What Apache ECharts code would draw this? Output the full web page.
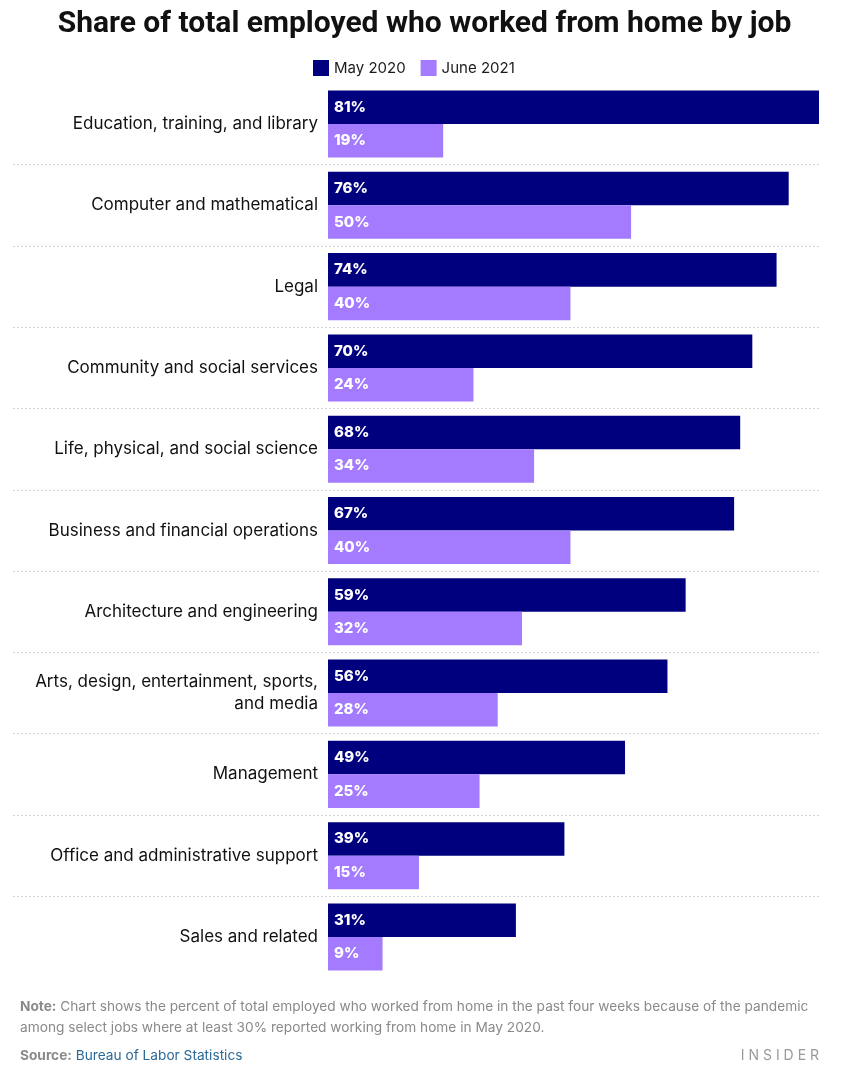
<!DOCTYPE html>
<html><head><meta charset="utf-8">
<script src="https://cdn.jsdelivr.net/npm/echarts@6/dist/echarts.min.js"></script>
<style>html,body{margin:0;padding:0;background:#fff}#c{width:849px;height:1082px}</style>
</head><body><div id="c"></div>
<script>
const categories = [
  "Education, training, and library",
  "Computer and mathematical",
  "Legal",
  "Community and social services",
  "Life, physical, and social science",
  "Business and financial operations",
  "Architecture and engineering",
  "Arts, design, entertainment, sports,\nand media",
  "Management",
  "Office and administrative support",
  "Sales and related"
];
const may2020 = [81, 76, 74, 70, 68, 67, 59, 56, 49, 39, 31];
const june2021 = [19, 50, 40, 24, 34, 40, 32, 28, 25, 15, 9];
const seriesNames = ["May 2020", "June 2021"];

const FONT = "Inter";
const chart = echarts.init(document.getElementById('c'), null, {renderer: 'canvas'});
const labelStyle = {show: true, position: 'insideLeft', distance: 6, color: '#fff', fontWeight: 800, fontSize: 15, fontFamily: FONT, formatter: p => p.value + '%'};
chart.setOption({
  animation: false,
  textStyle: {fontFamily: FONT},
  title: {
    text: 'Share of total employed who worked from home by job',
    left: 'center', top: 4,
    textStyle: {fontSize: 30, fontWeight: 'bold', color: '#111', fontFamily: 'Roboto'}
  },
  legend: {
    data: seriesNames, top: 55, left: 308,
    itemWidth: 16, itemHeight: 16, itemGap: 15,
    icon: 'rect',
    textStyle: {fontSize: 15, color: '#1a1a1a', fontFamily: FONT}
  },
  grid: [
    {left: 328, right: 30, top: 83.4, bottom: 104.4},
    {left: 13, right: 30, top: 83.4, bottom: 104.4}
  ],
  xAxis: [
    {type: 'value', gridIndex: 0, min: 0, max: 'dataMax', show: false},
    {type: 'value', gridIndex: 1, min: 0, max: 100, show: false}
  ],
  yAxis: [
    {type: 'category', gridIndex: 0, data: categories, inverse: true,
     axisLine: {show: false}, axisTick: {show: false}, splitLine: {show: false},
     axisLabel: {fontSize: 17, color: '#111', margin: 10, lineHeight: 22, fontFamily: FONT}},
    {type: 'category', gridIndex: 1, data: categories, inverse: true,
     axisLine: {show: false}, axisTick: {show: false}, axisLabel: {show: false},
     splitLine: {show: true, showMinLine: false, showMaxLine: false,
       lineStyle: {color: '#d4d4d4', type: [2, 2], width: 1}}}
  ],
  series: [
    {name: seriesNames[0], type: 'bar', data: may2020, xAxisIndex: 0, yAxisIndex: 0,
     itemStyle: {color: '#00007f'}, barGap: '0%', barCategoryGap: '17.5%', label: labelStyle},
    {name: seriesNames[1], type: 'bar', data: june2021, xAxisIndex: 0, yAxisIndex: 0,
     itemStyle: {color: '#a47bff'}, barGap: '0%', barCategoryGap: '17.5%', label: labelStyle}
  ],
  graphic: [
    {type: 'text', left: 20, top: 996, style: {
      text: '{b|Note:} Chart shows the percent of total employed who worked from home in the past four weeks because of the pandemic\namong select jobs where at least 30% reported working from home in May 2020.',
      rich: {b: {fontWeight: 'bold', fill: '#8a8a8a', fontSize: 13.7, fontFamily: FONT}},
      fill: '#8a8a8a', fontSize: 13.7, lineHeight: 21, fontFamily: FONT}},
    {type: 'text', left: 20, top: 1049, style: {
      text: '{b|Source:} {l|Bureau of Labor Statistics}',
      rich: {b: {fontWeight: 'bold', fill: '#8a8a8a', fontSize: 13.7, fontFamily: FONT},
             l: {fill: '#2b6a96', fontSize: 13.7, fontFamily: FONT}},
      fill: '#8a8a8a', fontSize: 13.7, fontFamily: FONT}},
    {type: 'text', right: 30, top: 1049, style: {
      text: 'I N S I D E R', fill: '#9a9a9a', fontSize: 14, fontFamily: FONT}}
  ]
});
</script></body></html>
